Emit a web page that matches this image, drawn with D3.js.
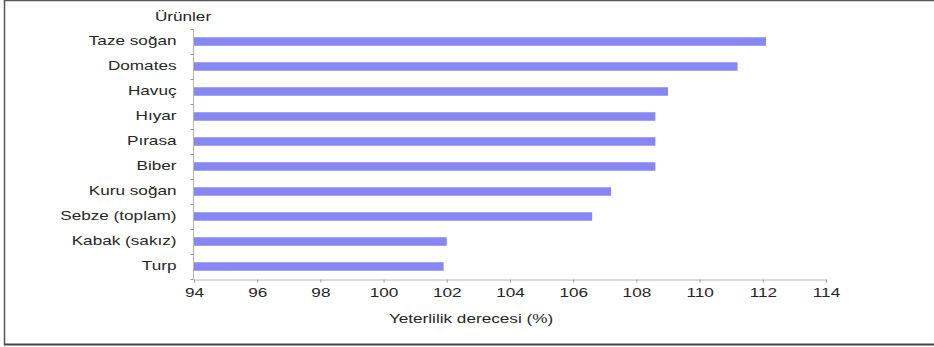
<!DOCTYPE html>
<html>
<head>
<meta charset="utf-8">
<script src="https://cdn.jsdelivr.net/npm/d3@7"></script>
<style>
  html, body { margin: 0; padding: 0; background: #fff; }
  svg { display: block; }
  text { font-family: "Liberation Sans", Arial, sans-serif; fill: #262626; }
</style>
</head>
<body>
<svg id="chart" width="934" height="347"></svg>
<script>
// Products and their self-sufficiency ratio (%)
const categories = ["Taze soğan", "Domates", "Havuç", "Hıyar", "Pırasa", "Biber",
                    "Kuru soğan", "Sebze (toplam)", "Kabak (sakız)", "Turp"];
const values = [112.1, 111.2, 109.0, 108.6, 108.6, 108.6, 107.2, 106.6, 102.0, 101.9];
const xTicks = [94, 96, 98, 100, 102, 104, 106, 108, 110, 112, 114];
const yTitle = "Ürünler";
const xTitle = "Yeterlilik derecesi (%)";

const svg = d3.select("#chart");
const stretch = 1.43;          // wide lettering
const fontSize = 12;
const barColor = "#8787f3";
const axisColor = "#b4b4b4";

// Frame (top, left, bottom edges)
svg.append("line").attr("x1", 4).attr("x2", 934).attr("y1", 0.5).attr("y2", 0.5)
  .attr("stroke", "#555").attr("stroke-width", 1.5);
svg.append("line").attr("x1", 4.5).attr("x2", 4.5).attr("y1", 0).attr("y2", 345)
  .attr("stroke", "#555").attr("stroke-width", 1.5);
svg.append("line").attr("x1", 4).attr("x2", 934).attr("y1", 344.5).attr("y2", 344.5)
  .attr("stroke", "#444").attr("stroke-width", 2);

const x = d3.scaleLinear().domain([94, 114]).range([194, 826]);
const y = d3.scaleBand().domain(categories).range([29, 279])
  .paddingInner(0.66).paddingOuter(0.33);

// Bars
svg.append("g").selectAll("rect")
  .data(categories.map((c, i) => ({ c, v: values[i] })))
  .join("rect")
  .attr("x", x(94))
  .attr("y", d => y(d.c))
  .attr("width", d => x(d.v) - x(94))
  .attr("height", y.bandwidth())
  .attr("fill", barColor);

// X axis
const xAxis = svg.append("g")
  .attr("transform", "translate(0,279.5)")
  .call(d3.axisBottom(x).tickValues(xTicks).tickSize(3).tickPadding(6).tickFormat(d3.format("d")));
xAxis.select(".domain").attr("stroke", axisColor);
xAxis.selectAll(".tick line").attr("stroke", "#999");
xAxis.selectAll(".tick text")
  .attr("font-size", fontSize).attr("font-family", null)
  .attr("fill", "#262626")
  .attr("transform", `scale(${stretch},1)`);

// Y axis
const yAxis = svg.append("g")
  .attr("transform", "translate(193.5,0)")
  .call(d3.axisLeft(y).tickSize(0).tickPadding(0));
yAxis.select(".domain").attr("stroke", axisColor).attr("d", `M0,${29}V${279.5}`);
yAxis.selectAll(".tick text")
  .attr("font-size", fontSize).attr("font-family", null)
  .attr("fill", "#262626")
  .attr("x", -17 / stretch)
  .attr("transform", `scale(${stretch},1)`);

// Category boundary ticks on the y axis
const bounds = d3.range(categories.length + 1).map(i => 29 + i * y.step());
yAxis.append("g").selectAll("line")
  .data(bounds)
  .join("line")
  .attr("x1", -3).attr("x2", 0)
  .attr("y1", d => d + 0.5).attr("y2", d => d + 0.5)
  .attr("stroke", "#999");

// Axis titles
svg.append("text")
  .attr("transform", `translate(183,21) scale(${stretch},1)`)
  .attr("text-anchor", "middle")
  .attr("font-size", fontSize)
  .text(yTitle);

svg.append("text")
  .attr("transform", `translate(471,323) scale(${stretch},1)`)
  .attr("text-anchor", "middle")
  .attr("font-size", fontSize)
  .text(xTitle);
</script>
</body>
</html>
